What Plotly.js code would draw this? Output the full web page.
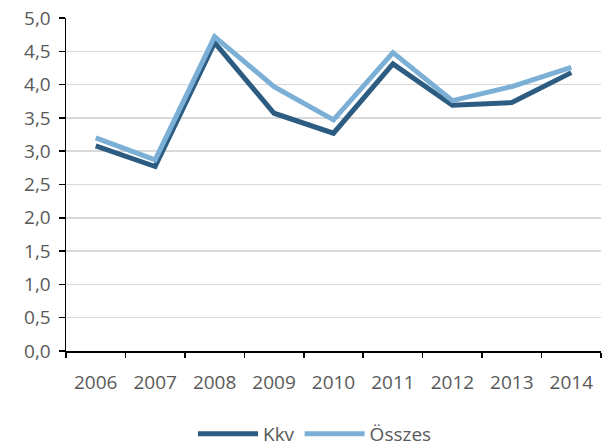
<!DOCTYPE html>
<html>
<head>
<meta charset="utf-8">
<script src="https://cdn.plot.ly/plotly-3.0.1.min.js"></script>
<style>html,body{margin:0;padding:0;background:#fff;}#chart{width:605px;height:447px;}</style>
</head>
<body>
<div id="chart"></div>
<script>
var years = ['2006','2007','2008','2009','2010','2011','2012','2013','2014'];
var kkv = [3.08, 2.77, 4.63, 3.57, 3.27, 4.31, 3.69, 3.73, 4.18];
var osszes = [3.20, 2.87, 4.72, 3.97, 3.47, 4.48, 3.76, 3.97, 4.26];
var yTicks = [0, 0.5, 1, 1.5, 2, 2.5, 3, 3.5, 4, 4.5, 5];

var traces = [
  {x: years, y: kkv, name: 'Kkv', type: 'scatter', mode: 'lines',
   line: {color: '#2c5c82', width: 5}},
  {x: years, y: osszes, name: 'Összes', type: 'scatter', mode: 'lines',
   line: {color: '#7bafd6', width: 5}}
];
var layout = {
  width: 605, height: 447,
  margin: {l: 66, r: 4, t: 18, b: 96, autoexpand: false},
  paper_bgcolor: '#fff', plot_bgcolor: '#fff',
  separators: ', ',
  font: {family: '"Open Sans", sans-serif', size: 19, color: '#595959'},
  showlegend: true,
  legend: {orientation: 'h', xref: 'container', x: 193 / 605, xanchor: 'left',
           yref: 'container', y: 1 - 434 / 447, yanchor: 'middle',
           itemwidth: 60,
           font: {size: 19, color: '#595959'}, traceorder: 'normal'},
  xaxis: {type: 'category', range: [-0.5, 8.5], showline: true, linecolor: '#000', linewidth: 1.5,
          ticks: 'outside', tickson: 'boundaries', ticklen: 5, tickcolor: '#000', tickwidth: 1.5,
          showgrid: false, zeroline: false, fixedrange: true, ticklabelstandoff: 14},
  yaxis: {range: [0, 5], tickvals: yTicks, tickformat: '.1f', showline: true, linecolor: '#000',
          linewidth: 1.5, ticks: 'outside', ticklen: 6, tickcolor: '#000', tickwidth: 1.5,
          showgrid: true, gridcolor: '#d9d9d9', gridwidth: 1.5, zeroline: false, ticklabelstandoff: 4}
};
Plotly.newPlot('chart', traces, layout, {displayModeBar: false, staticPlot: true});
</script>
</body>
</html>
